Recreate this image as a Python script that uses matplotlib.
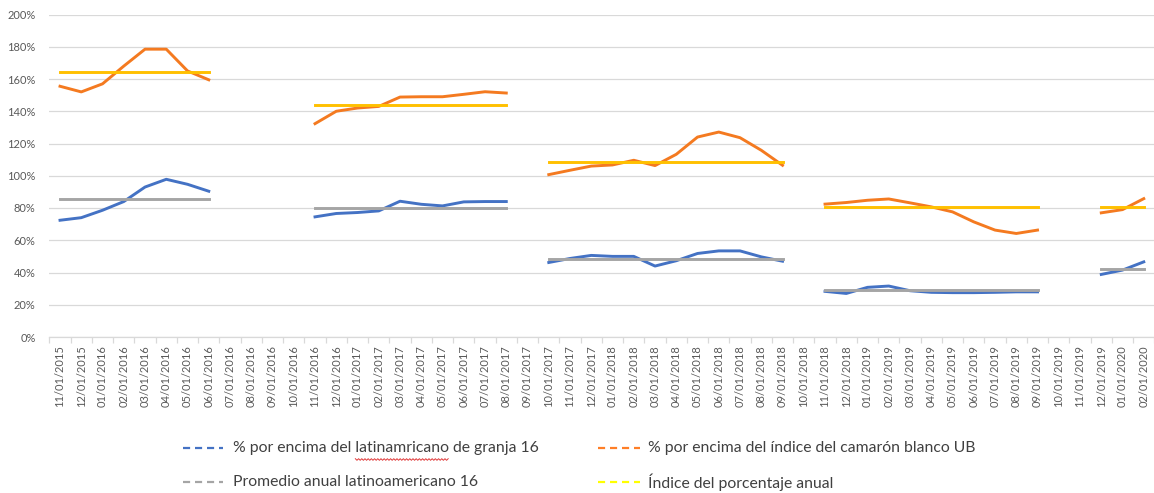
import numpy as np
import pandas as pd
import matplotlib
matplotlib.use("Agg")
import matplotlib.pyplot as plt
from matplotlib.lines import Line2D
from matplotlib.ticker import FuncFormatter, FixedLocator

plt.rcParams['font.family'] = ['Lato', 'DejaVu Sans']

nan = np.nan
months = pd.date_range("2015-11-01", "2020-02-01", freq="MS").strftime("%m/%d/%Y").tolist()

# % above Latin American farm 16
blue_farm = [72.4, 74.0, 78.6, 84.0, 93.0, 97.8, 94.7, 90.4,
             nan, nan, nan, nan,
             74.5, 76.6, 77.2, 78.2, 84.2, 82.3, 81.3, 83.8, 84.0, 84.0,
             nan,
             46.2, 48.7, 50.6, 50.0, 50.0, 44.0, 47.3, 51.8, 53.4, 53.4, 49.7, 47.0,
             nan,
             28.3, 27.0, 30.8, 31.6, 28.7, 27.7, 27.5, 27.5, 27.7, 28.0, 28.0,
             nan, nan,
             38.8, 41.5, 46.6]

# % above UB white shrimp index
orange_index = [155.5, 152.0, 157.0, 168.0, 178.5, 178.5, 165.0, 159.5,
                nan, nan, nan, nan,
                132.3, 140.0, 142.0, 143.0, 148.8, 149.0, 149.0, 150.5, 152.1, 151.3,
                nan,
                100.7, 103.4, 106.0, 106.7, 109.6, 106.3, 113.3, 124.0, 127.1, 123.6, 115.8, 106.5,
                nan,
                82.4, 83.4, 84.8, 85.6, 83.2, 80.7, 77.6, 71.4, 66.3, 64.2, 66.3,
                nan, nan,
                77.0, 79.0, 85.8]

# annual averages per period (start index, end index, value)
gray_periods = [(0, 7, 85.6), (12, 21, 80.0), (23, 34, 48.5), (36, 46, 28.9), (49, 51, 42.3)]
yellow_periods = [(0, 7, 164.5), (12, 21, 144.0), (23, 34, 108.6), (36, 46, 80.7), (49, 51, 80.7)]

labels = ["% por encima del latinamricano de granja 16",
          "% por encima del índice del camarón blanco UB",
          "Promedio anual latinoamericano 16",
          "Índice del porcentaje anual"]

n = len(months)
gray_avg = np.full(n, nan)
for a, b, v in gray_periods:
    gray_avg[a:b + 1] = v
yellow_avg = np.full(n, nan)
for a, b, v in yellow_periods:
    yellow_avg[a:b + 1] = v

W, H = 1154, 493
fig = plt.figure(figsize=(W / 100, H / 100), dpi=100)
ax = fig.add_axes([49.4 / W, 1 - 337 / H, (1154.4 - 49.4) / W, (337 - 14.5) / H])

x = np.arange(n)
c_blue, c_orange, c_gray, c_yellow = "#4472C4", "#F47A20", "#A5A5A5", "#FFC000"
lw = 2.1
ax.plot(x, blue_farm, color=c_blue, lw=lw, solid_joinstyle='round')
ax.plot(x, orange_index, color=c_orange, lw=lw, solid_joinstyle='round')
ax.plot(x, gray_avg, color=c_gray, lw=lw)
ax.plot(x, yellow_avg, color=c_yellow, lw=lw)

ax.set_xlim(-0.5, n - 0.5)
ax.set_ylim(0, 200)
ax.set_yticks(np.arange(0, 201, 20))
ax.yaxis.set_major_formatter(FuncFormatter(lambda v, p: f"{v:.0f}%"))
ax.grid(axis='y', color="#D9D9D9", lw=0.9)
ax.set_axisbelow(True)
for s in ['top', 'right', 'left']:
    ax.spines[s].set_visible(False)
ax.spines['bottom'].set_color("#D9D9D9")
ax.spines['bottom'].set_linewidth(0.9)

ax.set_xticks(x)
ax.set_xticklabels(months, rotation=90, va='top', ha='center')
ax.xaxis.set_minor_locator(FixedLocator(np.arange(-0.5, n, 1)))
ax.tick_params(axis='x', which='major', length=0, pad=6, labelsize=8, labelcolor="#595959")
ax.tick_params(axis='x', which='minor', length=4, width=0.9, color="#D9D9D9")
ax.tick_params(axis='y', length=0, pad=10, labelsize=8, labelcolor="#595959")

# legend (manual placement)
leg_colors = ["#4472C4", "#FF7F27", "#A5A5A5", "#FFFF00"]
leg_pos = [(183, 223, 233, 448), (598, 640, 648, 448), (183, 223, 233, 482), (598, 640, 648, 482)]
legfs = 11.3
text_color = "#404040"
for (x0, x1, xt, yy), col, lab in zip(leg_pos, leg_colors, labels):
    fig.add_artist(Line2D([x0 / W, x1 / W], [1 - yy / H, 1 - yy / H], transform=fig.transFigure,
                          color=col, lw=1.6, dashes=(3.2, 2.2)))
    fig.text(xt / W, 1 - yy / H, lab, fontsize=legfs, color=text_color, va='center', ha='left')

# spell-check squiggle under "latinamricano"
renderer = fig.canvas.get_renderer()
def textw(s):
    t = fig.text(0, 0, s, fontsize=legfs)
    w = t.get_window_extent(renderer).width
    t.remove()
    return w
sx0 = 233 + textw("% por encima del ")
sx1 = 233 + textw("% por encima del latinamricano")
zx = np.arange(sx0, sx1, 1.6)
zy = 459.5 + np.where(np.arange(len(zx)) % 2 == 0, -0.8, 0.8)
fig.add_artist(Line2D(zx / W, 1 - zy / H, transform=fig.transFigure, color="#E03A3A", lw=0.7))

fig.savefig("out.png", dpi=100)
